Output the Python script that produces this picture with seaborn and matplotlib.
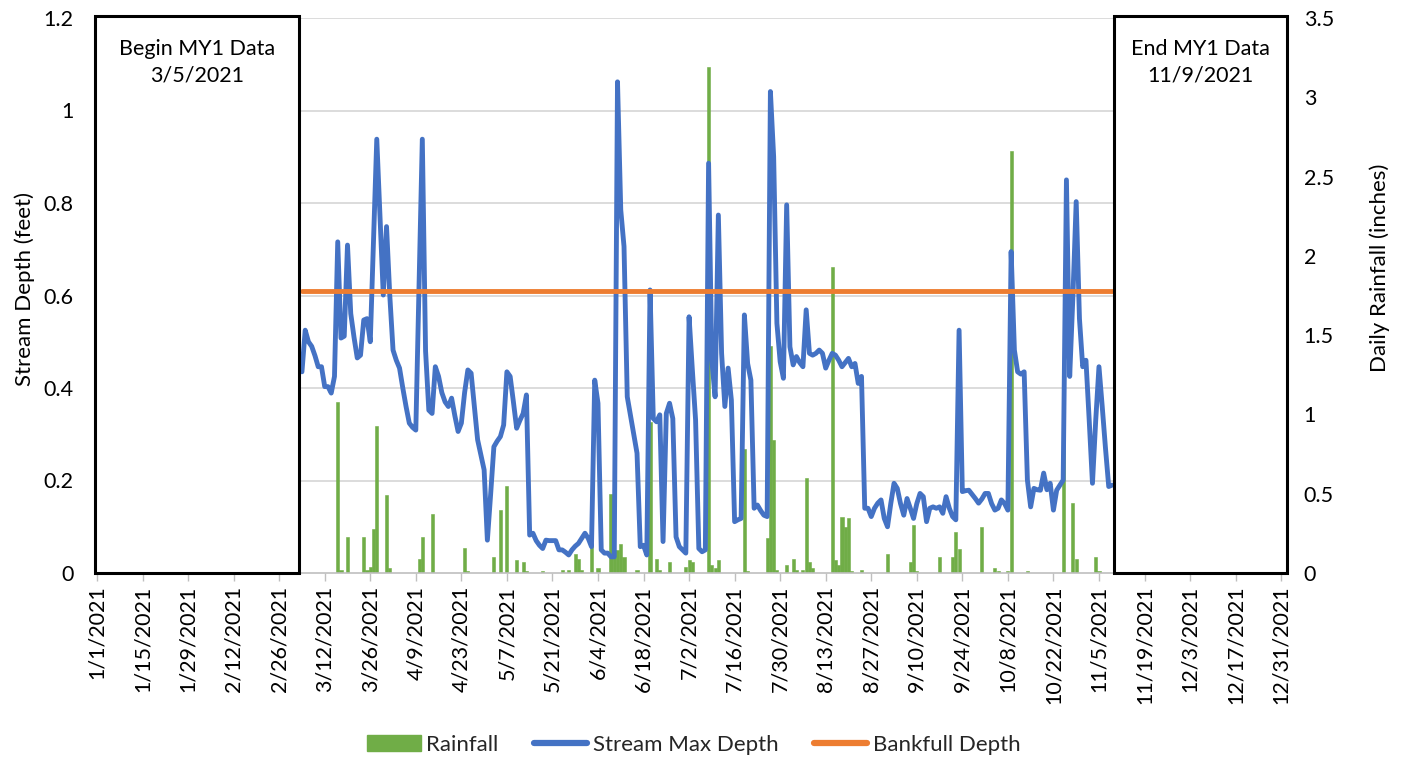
import matplotlib
matplotlib.use("Agg")
import numpy as np
import pandas as pd
import seaborn as sns
import matplotlib.pyplot as plt
import matplotlib.dates as mdates
from matplotlib.patches import Rectangle, Patch
from matplotlib.lines import Line2D
from matplotlib.ticker import FuncFormatter

# ---------------- data ----------------
depth_start = "2021-03-05"
depth_ft = [
    0.435, 0.525, 0.50, 0.49, 0.47, 0.446, 0.446, 0.403, 0.403, 0.389,
    0.425, 0.716, 0.508, 0.512, 0.709, 0.561, 0.51, 0.465, 0.471, 0.547,
    0.55, 0.50, 0.72, 0.938, 0.77, 0.601, 0.749, 0.60, 0.482, 0.46,
    0.443, 0.40, 0.36, 0.324, 0.315, 0.309, 0.62, 0.938, 0.48, 0.352,
    0.345, 0.446, 0.425, 0.39, 0.37, 0.36, 0.378, 0.34, 0.306, 0.324,
    0.39, 0.439, 0.432, 0.36, 0.288, 0.255, 0.223, 0.071, 0.17, 0.273,
    0.285, 0.295, 0.32, 0.435, 0.425, 0.37, 0.313, 0.33, 0.345, 0.385,
    0.082, 0.086, 0.07, 0.06, 0.053, 0.071, 0.07, 0.07, 0.07, 0.05,
    0.05, 0.045, 0.039, 0.05, 0.058, 0.064, 0.075, 0.086, 0.075, 0.057,
    0.417, 0.367, 0.05, 0.043, 0.043, 0.035, 0.035, 1.062, 0.785, 0.706,
    0.381, 0.34, 0.30, 0.259, 0.057, 0.06, 0.039, 0.612, 0.334, 0.327,
    0.342, 0.068, 0.345, 0.367, 0.334, 0.078, 0.057, 0.05, 0.043, 0.554,
    0.44, 0.331, 0.053, 0.046, 0.05, 0.886, 0.46, 0.381, 0.774, 0.475,
    0.36, 0.443, 0.374, 0.111, 0.115, 0.118, 0.558, 0.453, 0.417, 0.14,
    0.147, 0.135, 0.125, 0.122, 1.041, 0.90, 0.54, 0.457, 0.421, 0.796,
    0.489, 0.45, 0.468, 0.455, 0.446, 0.569, 0.475, 0.471, 0.475, 0.482,
    0.475, 0.443, 0.46, 0.475, 0.471, 0.46, 0.446, 0.455, 0.464, 0.446,
    0.453, 0.41, 0.425, 0.14, 0.14, 0.122, 0.14, 0.151, 0.158, 0.118,
    0.10, 0.15, 0.194, 0.183, 0.15, 0.125, 0.161, 0.14, 0.118, 0.15,
    0.172, 0.165, 0.111, 0.14, 0.143, 0.14, 0.143, 0.129, 0.165, 0.14,
    0.122, 0.115, 0.525, 0.176, 0.178, 0.179, 0.17, 0.161, 0.151, 0.16,
    0.172, 0.172, 0.15, 0.136, 0.14, 0.158, 0.15, 0.136, 0.695, 0.482,
    0.435, 0.43, 0.435, 0.201, 0.143, 0.183, 0.18, 0.179, 0.216, 0.18,
    0.194, 0.136, 0.179, 0.19, 0.201, 0.85, 0.425, 0.60, 0.803, 0.55,
    0.446, 0.46, 0.33, 0.194, 0.33, 0.446, 0.36, 0.27, 0.187, 0.19,
]

rain_dates = [
    "2021-03-16", "2021-03-17", "2021-03-19", "2021-03-24", "2021-03-25",
    "2021-03-26", "2021-03-27", "2021-03-28", "2021-03-31", "2021-04-01",
    "2021-04-10", "2021-04-11", "2021-04-14", "2021-04-24", "2021-04-25",
    "2021-05-03", "2021-05-05", "2021-05-07", "2021-05-10", "2021-05-12",
    "2021-05-13", "2021-05-18", "2021-05-24", "2021-05-26", "2021-05-28",
    "2021-05-29", "2021-05-30", "2021-06-02", "2021-06-04", "2021-06-08",
    "2021-06-09", "2021-06-10", "2021-06-11", "2021-06-12", "2021-06-16",
    "2021-06-20", "2021-06-22", "2021-06-23", "2021-06-26", "2021-07-01",
    "2021-07-02", "2021-07-03", "2021-07-08", "2021-07-09", "2021-07-10",
    "2021-07-11", "2021-07-19", "2021-07-20", "2021-07-26", "2021-07-27",
    "2021-07-28", "2021-07-29", "2021-08-01", "2021-08-03", "2021-08-04",
    "2021-08-06", "2021-08-07", "2021-08-08", "2021-08-09", "2021-08-15",
    "2021-08-16", "2021-08-17", "2021-08-18", "2021-08-19", "2021-08-20",
    "2021-08-21", "2021-08-24", "2021-09-01", "2021-09-08", "2021-09-09",
    "2021-09-10", "2021-09-17", "2021-09-21", "2021-09-22", "2021-09-23",
    "2021-09-30", "2021-10-04", "2021-10-05", "2021-10-08", "2021-10-09",
    "2021-10-14", "2021-10-25", "2021-10-28", "2021-10-29", "2021-11-04",
    "2021-11-05",
]
rain_in = [
    1.08, 0.02, 0.23, 0.225, 0.02,
    0.04, 0.28, 0.93, 0.49, 0.03,
    0.09, 0.225, 0.37, 0.16, 0.01,
    0.10, 0.40, 0.55, 0.08, 0.07,
    0.01, 0.01, 0.02, 0.02, 0.12,
    0.09, 0.02, 0.19, 0.03, 0.50,
    0.145, 0.145, 0.18, 0.10, 0.02,
    0.95, 0.09, 0.02, 0.07, 0.04,
    0.08, 0.07, 3.19, 0.05, 0.03,
    0.08, 0.78, 0.01, 0.22, 1.43,
    0.84, 0.02, 0.05, 0.09, 0.02,
    0.02, 0.60, 0.07, 0.03, 1.93,
    0.08, 0.05, 0.355, 0.29, 0.345,
    0.01, 0.02, 0.12, 0.07, 0.30,
    0.01, 0.10, 0.10, 0.26, 0.15,
    0.29, 0.03, 0.01, 0.01, 2.66,
    0.01, 0.87, 0.44, 0.09, 0.10,
    0.01,
]

bankfull_ft = 0.61
begin_label = ["Begin MY1 Data", "3/5/2021"]
end_label = ["End MY1 Data", "11/9/2021"]
legend_labels = ["Rainfall", "Stream Max Depth", "Bankfull Depth"]
left_ylabel = "Stream Depth (feet)"
right_ylabel = "Daily Rainfall (inches)"
depth_ticks = [0, 0.2, 0.4, 0.6, 0.8, 1.0, 1.2]
rain_ticks = [0, 0.5, 1.0, 1.5, 2.0, 2.5, 3.0, 3.5]

# ---------------- frames ----------------
depth_df = pd.DataFrame({
    "date": pd.date_range(depth_start, periods=len(depth_ft), freq="D"),
    "depth": depth_ft,
})
bank_df = pd.DataFrame({"date": depth_df["date"], "bank": bankfull_ft})
rain_df = pd.DataFrame({"date": pd.to_datetime(rain_dates), "rain": rain_in})

# ---------------- style ----------------
sns.set_theme(style="white")
plt.rcParams["font.family"] = ["Lato", "DejaVu Sans"]

GREEN = "#70AD47"
BLUE = "#4472C4"
ORANGE = "#ED7D31"
GRID = "#D9D9D9"
TXT = "#000000"

fig = plt.figure(figsize=(14.08, 7.62), dpi=100)
ax_r = fig.add_axes([97 / 1408, 1 - 573 / 762, 1190 / 1408, 555 / 762])  # rainfall (bottom layer)
ax_d = ax_r.twinx()  # depth (top layer)

x0 = pd.Timestamp("2021-01-01")
x1 = x0 + pd.Timedelta(days=365.8)

# rainfall bars on the lower layer
ax_r.bar(rain_df["date"], rain_df["rain"], width=0.95, color=GREEN, lw=0.4,
         edgecolor=GREEN, zorder=2)
ax_r.set_ylim(0, 3.5)
# gridlines at the depth tick positions (drawn under everything)
for t in depth_ticks[1:]:
    ax_r.axhline(t * 3.5 / 1.2, color=GRID, lw=1.3, zorder=0)

# depth lines on the upper layer
sns.lineplot(data=depth_df, x="date", y="depth", ax=ax_d, color=BLUE, lw=3.5,
             zorder=3, legend=False)
sns.lineplot(data=bank_df, x="date", y="bank", ax=ax_d, color=ORANGE, lw=3.5,
             zorder=4, legend=False)
ax_d.set_ylim(0, 1.2)

# axes positions: depth axis on the left, rainfall axis on the right
ax_d.yaxis.tick_left()
ax_r.yaxis.tick_right()
ax_d.set_yticks(depth_ticks)
ax_r.set_yticks(rain_ticks)
fmt = FuncFormatter(lambda v, p: f"{v:g}")
ax_d.yaxis.set_major_formatter(fmt)
ax_r.yaxis.set_major_formatter(fmt)
ax_d.tick_params(axis="y", length=0, pad=17, labelsize=15.5, labelcolor=TXT)
ax_r.tick_params(axis="y", length=0, pad=12, labelsize=15.5, labelcolor=TXT)
ax_d.set_ylabel("")
ax_r.set_ylabel("")
ax_d.set_xlabel("")
ax_r.set_xlabel("")

# x axis
ax_r.set_xlim(x0, x1)
ax_d.set_xlim(x0, x1)
ticks = pd.date_range("2021-01-01", "2021-12-31", freq="14D")
ax_r.set_xticks(ticks)
ax_r.set_xticklabels([f"{d.month}/{d.day}/{d.year}" for d in ticks], rotation=90,
                     fontsize=15.5, color=TXT, va="top")
ax_r.tick_params(axis="x", length=6, width=1, color="#BFBFBF", pad=3, bottom=True)
ax_d.tick_params(axis="x", bottom=False, labelbottom=False)

for a in (ax_r, ax_d):
    for s in ("top", "left", "right", "bottom"):
        a.spines[s].set_visible(False)
ax_r.spines["bottom"].set_visible(True)
ax_r.spines["bottom"].set_color("#BFBFBF")
ax_r.spines["bottom"].set_linewidth(1.2)

# Begin / End boxes
box_kw = dict(fill=True, facecolor="white", edgecolor="black", lw=2.2, zorder=10, clip_on=False)
bx0 = mdates.date2num(x0) - 0.7
bx1 = mdates.date2num(pd.Timestamp("2021-03-04")) + 0.1
ax_d.add_patch(Rectangle((bx0, 0), bx1 - bx0, 1.205, **box_kw))
ex0 = mdates.date2num(pd.Timestamp("2021-11-09")) + 0.7
ex1 = mdates.date2num(x1)
ax_d.add_patch(Rectangle((ex0, 0), ex1 - ex0, 1.205, **box_kw))
ax_d.text((bx0 + bx1) / 2, 1.155, "\n".join(begin_label), ha="center", va="top",
          fontsize=15.5, color=TXT, linespacing=1.4, zorder=11)
ax_d.text((ex0 + ex1) / 2, 1.155, "\n".join(end_label), ha="center", va="top",
          fontsize=15.5, color=TXT, linespacing=1.4, zorder=11)

# axis titles
fig.text(25 / 1408, 1 - 289 / 762, left_ylabel, rotation=90, ha="center", va="center",
         fontsize=16, color=TXT)
fig.text(1380 / 1408, 1 - 268 / 762, right_ylabel, rotation=90, ha="center", va="center",
         fontsize=16, color=TXT)

# legend
handles = [
    Patch(facecolor=GREEN, edgecolor=GREEN),
    Line2D([0], [0], color=BLUE, lw=4.5, solid_capstyle="round"),
    Line2D([0], [0], color=ORANGE, lw=4.5, solid_capstyle="round"),
]
fig.legend(handles, legend_labels, loc="center", bbox_to_anchor=(694 / 1408, 1 - 745 / 762),
           ncol=3, frameon=False, fontsize=16, handlelength=2.4, handleheight=0.7,
           columnspacing=1.6, handletextpad=0.25)

fig.savefig("out.png", dpi=100)
